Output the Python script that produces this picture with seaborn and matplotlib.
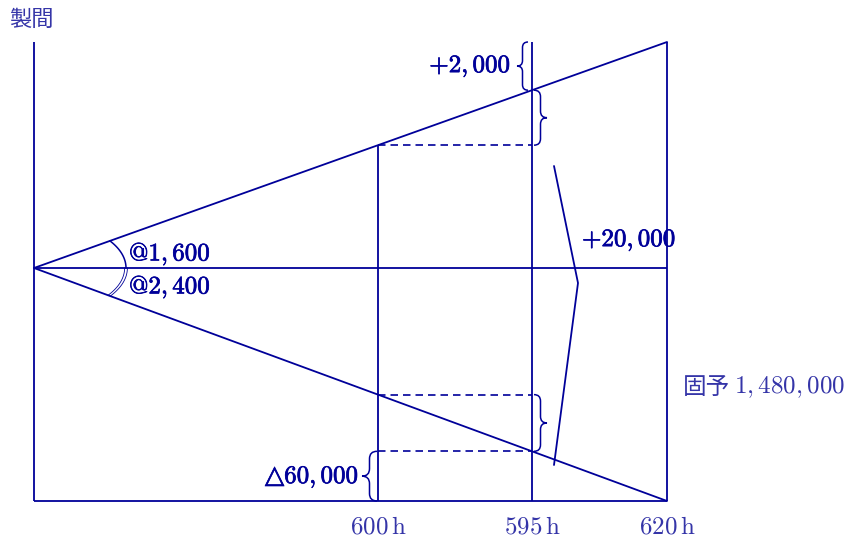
import numpy as np
import pandas as pd
import matplotlib
matplotlib.use("Agg")
import matplotlib.pyplot as plt
import matplotlib.patheffects as pe
from matplotlib.path import Path
from matplotlib.patches import PathPatch
import seaborn as sns

# values shown on the chart
hours = [600, 595, 620]
hour_labels = ["600\\,\\mathrm{h}", "595\\,\\mathrm{h}", "620\\,\\mathrm{h}"]
rate_labels = ["@1,600", "@2,400"]
variance_labels = ["+2,000", "+20,000", "60,000"]
budget_label = "1,480,000"
axis_title = "製間"
budget_title = "固予"

# schematic layout (not to scale), in pixels of the output image
X0 = 34
XPOS = {600: 378, 595: 532, 620: 667}
Y_TOP, Y_MID, Y_BASE = 42, 268, 501

LINE = "#000099"
TXT = "#3535a8"

sns.set_theme(style="white")
plt.rcParams["mathtext.fontset"] = "cm"
plt.rcParams["font.family"] = ["Noto Sans CJK JP", "DejaVu Sans"]

fig = plt.figure(figsize=(8.47, 5.42), dpi=100)
ax = fig.add_axes([0, 0, 1, 1])
ax.set_xlim(0, 847)
ax.set_ylim(542, 0)
ax.axis("off")


def upper(x):
    return Y_MID + (Y_TOP - Y_MID) * (x - X0) / (XPOS[620] - X0)


def lower(x):
    return Y_MID + (Y_BASE - Y_MID) * (x - X0) / (XPOS[620] - X0)


def brace(x, y0, y1, d, w):
    # vertical curly brace, base at x, tip pointing d (+1 right, -1 left)
    ym = (y0 + y1) / 2
    q = min(w / 2, (y1 - y0) / 4)
    xm = x + d * w / 2
    verts = [(x, y0), (xm, y0), (xm, y0 + q), (xm, ym - q),
             (xm, ym), (x + d * w, ym), (xm, ym), (xm, ym + q),
             (xm, y1 - q), (xm, y1), (x, y1)]
    codes = [Path.MOVETO, Path.CURVE3, Path.CURVE3, Path.LINETO,
             Path.CURVE3, Path.CURVE3, Path.CURVE3, Path.CURVE3,
             Path.LINETO, Path.CURVE3, Path.CURVE3]
    ax.add_patch(PathPatch(Path(verts, codes), fill=False, ec=LINE, lw=1.1))


x600, x595, x620 = (XPOS[h] for h in hours)

# two rate lines from the origin
rate_df = pd.DataFrame({
    "x": [X0, x620, X0, x620],
    "y": [Y_MID, Y_TOP, Y_MID, Y_BASE],
    "line": ["up", "up", "down", "down"],
})
sns.lineplot(data=rate_df, x="x", y="y", units="line", estimator=None,
             color=LINE, lw=1.3, ax=ax, legend=False)

kw = dict(color=LINE, lw=1.3, solid_capstyle="butt")
ax.plot([X0, X0], [Y_TOP, Y_BASE], **kw)
ax.plot([x620, x620], [Y_TOP, Y_BASE], **kw)
ax.plot([x595, x595], [Y_TOP, Y_BASE], **kw)
ax.plot([x600, x600], [upper(x600), Y_BASE], **kw)
ax.plot([X0, x620], [Y_MID, Y_MID], **kw)
ax.plot([X0, x620], [Y_BASE, Y_BASE], **kw)

dkw = dict(color=LINE, lw=1.2, ls=(0, (4.5, 3)))
for y in [upper(x600), lower(x600), lower(x595)]:
    ax.plot([x600, x595], [y, y], **dkw)

# angle arcs (ellipse because the drawing is stretched)
a, b = 92, 48
s_up = (Y_MID - Y_TOP) / (x620 - X0)
s_dn = (Y_BASE - Y_MID) / (x620 - X0)
t_up = np.arctan(s_up * a / b)
t_dn = np.arctan(s_dn * a / b)
t = np.linspace(0, t_up, 60)
ax.plot(X0 + a * np.cos(t), Y_MID - b * np.sin(t), color=LINE, lw=1.1)
for k in [0.985, 1.015]:
    t = np.linspace(0, t_dn, 60)
    ax.plot(X0 + k * a * np.cos(t), Y_MID + k * b * np.sin(t), color=LINE, lw=0.6)

# braces
brace(528, Y_TOP, upper(x595), -1, 11)
brace(534, upper(x595), upper(x600), 1, 13)
brace(534, lower(x600), lower(x595), 1, 13)
brace(377, lower(x595), Y_BASE, -1, 15)

# big bracket
ax.plot([554, 578, 554], [166, 283, 465], color=LINE, lw=1.3)

# labels
bold = [pe.withStroke(linewidth=0.5, foreground=LINE)]
lab = dict(color=LINE, fontsize=18, path_effects=bold)
ax.text(129, 254, "$" + rate_labels[0] + "$", va="center", ha="left", **lab)
ax.text(129, 287, "$" + rate_labels[1] + "$", va="center", ha="left", **lab)
ax.text(511, 66, "$" + variance_labels[0] + "$", va="center", ha="right", **lab)
ax.text(582, 240, "$" + variance_labels[1] + "$", va="center", ha="left", **lab)
ax.text(359, 477, "△$" + variance_labels[2] + "$", va="center", ha="right",
        family=["DejaVu Sans"], **lab)

for h, lbl in zip(hours, hour_labels):
    ax.text(XPOS[h], 526, "$" + lbl + "$", ha="center", va="center",
            color=TXT, fontsize=18)

ax.text(9, 19, axis_title, ha="left", va="center", color=TXT, fontsize=16,
        family=["Noto Sans CJK JP", "DejaVu Sans"])
ax.text(683, 387, budget_title, ha="left", va="center",
        color=TXT, fontsize=17, family=["Noto Sans CJK JP", "DejaVu Sans"])
ax.text(845, 387, "$" + budget_label + "$", ha="right", va="center",
        color=TXT, fontsize=18)

fig.savefig("out.png", dpi=100)
